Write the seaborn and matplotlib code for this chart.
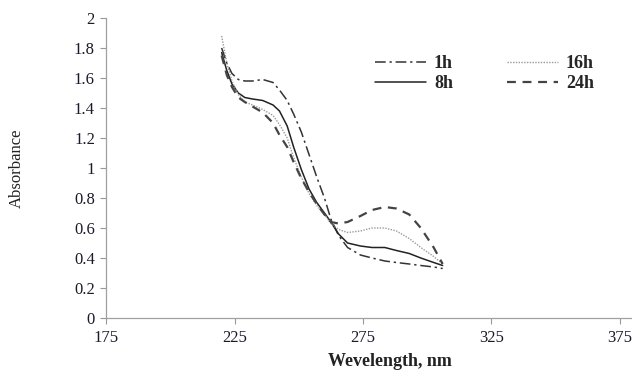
import matplotlib
matplotlib.use("Agg")
import matplotlib.pyplot as plt
import seaborn as sns
import pandas as pd

wavelength = [220, 222, 224, 226.5, 229, 232, 236, 240, 242.5, 245.5, 248, 251, 254,
              257, 260, 262.5, 265.5, 269, 274, 278.5, 283.5, 288, 293, 297.5, 302.5, 306]
abs_1h = [1.80, 1.70, 1.63, 1.59, 1.58, 1.58, 1.59, 1.57, 1.52, 1.45, 1.36, 1.24, 1.09,
          0.94, 0.80, 0.66, 0.55, 0.47, 0.42, 0.40, 0.38, 0.37, 0.36, 0.35, 0.34, 0.33]
abs_8h = [1.77, 1.65, 1.56, 1.50, 1.47, 1.46, 1.45, 1.42, 1.38, 1.28, 1.14, 0.99, 0.86,
          0.77, 0.70, 0.64, 0.56, 0.50, 0.48, 0.47, 0.47, 0.45, 0.43, 0.40, 0.37, 0.35]
abs_16h = [1.88, 1.70, 1.58, 1.49, 1.44, 1.42, 1.39, 1.35, 1.29, 1.20, 1.07, 0.94, 0.83,
           0.75, 0.69, 0.63, 0.59, 0.57, 0.58, 0.60, 0.60, 0.58, 0.53, 0.47, 0.41, 0.36]
abs_24h = [1.75, 1.62, 1.54, 1.47, 1.44, 1.41, 1.37, 1.30, 1.22, 1.14, 1.04, 0.93, 0.84,
           0.76, 0.69, 0.64, 0.63, 0.64, 0.68, 0.72, 0.74, 0.73, 0.69, 0.60, 0.47, 0.36]

series = {"1h": abs_1h, "8h": abs_8h, "16h": abs_16h, "24h": abs_24h}
x_ticks = [175, 225, 275, 325, 375]
y_ticks = [0, 0.2, 0.4, 0.6, 0.8, 1, 1.2, 1.4, 1.6, 1.8, 2]
y_tick_labels = ["0", "0.2", "0.4", "0.6", "0.8", "1", "1.2", "1.4", "1.6", "1.8", "2"]

sns.set_theme(style="white")
plt.rcParams["font.family"] = ["Liberation Serif", "DejaVu Serif"]

styles = {
    "1h": dict(color="#333333", lw=1.1, dashes=(7, 2.5, 1.5, 2.5)),
    "8h": dict(color="#222222", lw=1.1, dashes=None),
    "16h": dict(color="#9a9a9a", lw=1.0, dashes=(1, 1)),
    "24h": dict(color="#444444", lw=1.6, dashes=(4, 3)),
}

fig = plt.figure(figsize=(6.32, 3.70), dpi=100)
# x: 175 -> 106 px, 2.57 px per nm ; y: 0 -> 318 px, 2 -> 18 px
ax = fig.add_axes([106 / 632, 52 / 370, 526 / 632, 300 / 370])

for name, vals in series.items():
    df = pd.DataFrame({"Wavelength": wavelength, "Absorbance": vals})
    st = styles[name]
    sns.lineplot(data=df, x="Wavelength", y="Absorbance", ax=ax, label=name,
                 color=st["color"], linewidth=st["lw"])
    line = ax.lines[-1]
    if st["dashes"] is not None:
        line.set_dashes(st["dashes"])

ax.set_xlim(175, 175 + 526 / 2.57)
ax.set_ylim(0, 2)
ax.set_xticks(x_ticks)
ax.set_yticks(y_ticks)
ax.set_yticklabels(y_tick_labels)
ax.tick_params(axis="both", which="both", direction="out", length=4, width=0.8,
               color="#999999", labelsize=12, labelcolor="#1a1a2a", pad=4)
ax.tick_params(axis="x", pad=5)
ax.tick_params(left=True, bottom=True)
for s in ["top", "right"]:
    ax.spines[s].set_visible(False)
for s in ["left", "bottom"]:
    ax.spines[s].set_color("#a0a0a0")
    ax.spines[s].set_linewidth(0.9)

ax.set_xlabel("Wevelength, nm", fontsize=13, fontweight="bold", color="#222222")
ax.xaxis.set_label_coords((390 - 106) / 526, -(353 - 318) / 300)
ax.set_ylabel("Absorbance", fontsize=12, color="#222222")
ax.yaxis.set_label_coords(-(106 - 25) / 526, 0.5)

handles, labels = ax.get_legend_handles_labels()
leg = ax.legend(handles, labels, ncol=2, frameon=False, loc="upper left",
                bbox_to_anchor=(359 / 632, 1 - 39 / 370), bbox_transform=fig.transFigure,
                handlelength=2.8, columnspacing=3.0, handletextpad=0.45,
                labelspacing=0.15, prop={"weight": "bold", "size": 13})

fig.savefig("out.png", dpi=100)
